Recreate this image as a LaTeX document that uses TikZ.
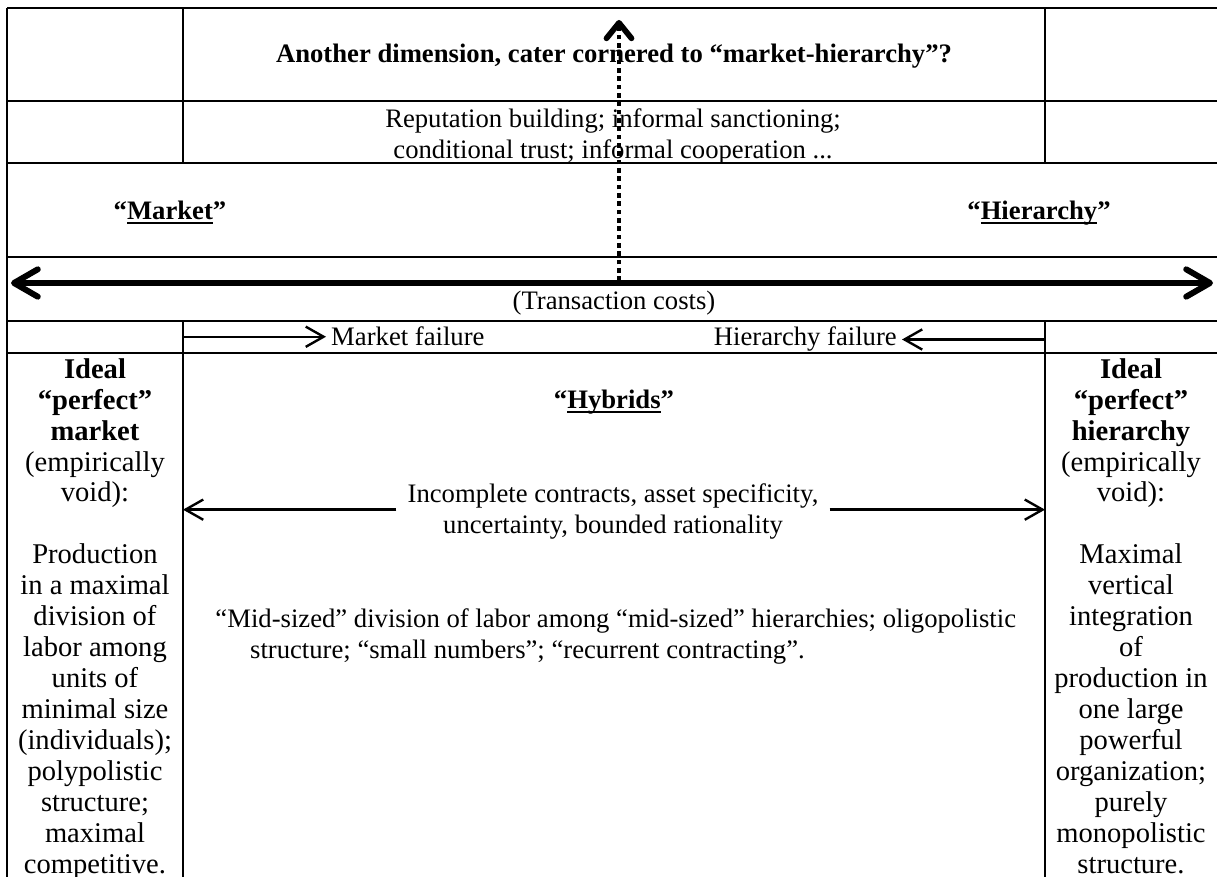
\documentclass[tikz,border=0pt]{standalone}
\usepackage{fontspec}
\setmainfont{Liberation Serif}
\usetikzlibrary{arrows.meta}
\newcommand{\uword}[1]{\setbox0\hbox{#1}\rlap{\rule[-1.7pt]{\wd0}{0.8pt}}\box0}
\tikzstyle{grid} = [line width=0.9pt]
\tikzstyle{arrow} = [line width=1pt,-{Straight Barb[length=7.5pt,width=8.5pt]}]
\tikzstyle{axis} = [line width=2.5pt,{Straight Barb[length=10pt,width=11.5pt,round]}-{Straight Barb[length=10pt,width=11.5pt,round]}]
\tikzstyle{dimarrow} = [line width=2pt,dash pattern=on 2pt off 1.5pt,-{Straight Barb[length=6.5pt,width=10.5pt,line width=2.4pt,round]}]

\begin{document}
\begin{tikzpicture}[x=0.42pt,y=-0.42pt,
	cell/.style={inner sep=0pt,align=center,anchor=north,font=\fontsize{11.2}{13}\selectfont},
	side/.style={cell,font=\fontsize{12}{13}\selectfont},
	head/.style={inner sep=0pt,anchor=base,font=\fontsize{11.2}{13}\selectfont\bfseries},
	word/.style={inner sep=2pt,anchor=base,font=\fontsize{11.2}{13}\selectfont}]
	
	\useasboundingbox (0,0) rectangle (1217,877);
	
	% table
	\coordinate (colA) at (183,8);
	\coordinate (colB) at (1045,8);
	\draw[grid] (7,8) -- (7,877);
	\foreach \y in {8,101,163,257,321,353}
		\draw[grid] (7,\y) -- (1217,\y);
	\foreach \x in {183,1045}
		\draw[grid] (\x,8) -- (\x,163) (\x,321) -- (\x,877);
	
	% upper rows
	\node[head] (dim) at (614,63) {Another dimension, cater cornered to “market-hierarchy”?};
	\node[cell] (rep) at (613,105) {\strut Reputation building; informal sanctioning;\\conditional trust; informal cooperation ...};
	\node[head] (mkt) at (170,220) {“\uword{Market}”};
	\node[head] (hier) at (1039,220) {“\uword{Hierarchy}”};
	\node[word] (tc) at (614,310) {(Transaction costs)};
	
	\coordinate (axL) at (11,283);
	\coordinate (axM) at (619,281);
	\coordinate (axR) at (1213,283);
	\coordinate (dimtop) at (619,20);
	
	% failure row
	\node[word,anchor=base west] (mf) at (326,346) {Market failure};
	\node[word,anchor=base east] (hf) at (902,346) {Hierarchy failure};
	
	% main row
	\node[side] (lcol) at (95,356) {\strut\textbf{Ideal}\\\textbf{“perfect”}\\\textbf{market}\\(empirically\\void):\\[13pt]Production\\in a maximal\\division of\\labor among\\units of\\minimal size\\(individuals);\\polypolistic\\structure;\\maximal\\competitive.};
	\node[side] (rcol) at (1131,356) {\strut\textbf{Ideal}\\\textbf{“perfect”}\\\textbf{hierarchy}\\(empirically\\void):\\[13pt]Maximal\\vertical\\integration\\of\\production in\\one large\\powerful\\organization;\\purely\\monopolistic\\structure.};
	\node[head] (hyb) at (614,409) {“\uword{Hybrids}”};
	\node[cell] (inc) at (613,480) {\strut Incomplete contracts, asset specificity,\\uncertainty, bounded rationality};
	\node[cell,align=left,anchor=north west] (mid) at (215,605) {\strut“Mid-sized” division of labor among “mid-sized” hierarchies; oligopolistic\\\hspace*{1.3em}structure; “small numbers”; “recurrent contracting”.};
	
	% arrows
	\draw[axis] (axL) -- (axR);
	\draw[dimarrow] (axM) -- (dimtop);
	\draw[arrow] (colA |- mf.west) -- (mf.west);
	\draw[arrow] (colB |- hf.east) -- (hf.east);
	\draw[arrow] ([xshift=-4.5pt]inc.west) -- (colA |- inc.west);
	\draw[arrow] ([xshift=4.5pt]inc.east) -- (colB |- inc.east);
\end{tikzpicture}
\end{document}
